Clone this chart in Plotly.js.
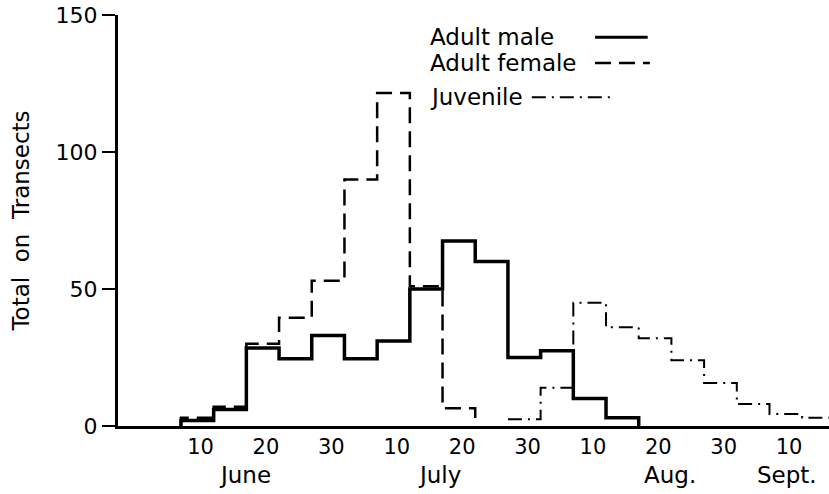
<!DOCTYPE html>
<html>
<head>
<meta charset="utf-8">
<script src="https://cdn.plot.ly/plotly-3.0.1.min.js"></script>
<style>
  html, body { margin: 0; padding: 0; background: #fff; }
  #chart { width: 829px; height: 494px; }
</style>
</head>
<body>
<div id="chart"></div>
<script>
// Day index counted from 1 June (months taken as 30 days); each bin covers 5 days.
const maleBinStarts   = [7, 12, 17, 22, 27, 32, 37, 42, 47, 52, 57, 62, 67, 72];
const maleCounts      = [2, 6, 28.5, 24.5, 33, 24.5, 31, 50, 67.5, 60, 25, 27.5, 10, 3];

const femaleBinStarts = [7, 12, 17, 22, 27, 32, 37, 42, 47];
const femaleCounts    = [3, 7, 30, 39.5, 53, 90, 121.5, 51, 6.5];

const juvBinStarts    = [57, 62, 67, 72, 77, 82, 87, 92, 97, 102];
const juvCounts       = [2.5, 14, 45, 36, 32, 24, 15.7, 8, 4.4, 3];

const binWidth = 5;

const tickDays   = [10, 20, 30, 40, 50, 60, 70, 80, 90, 100];
const tickLabels = ["10", "20", "30", "10", "20", "30", "10", "20", "30", "10"];

const monthNames = ["June", "July", "Aug.", "Sept."];
const monthDays  = [16.8, 46.6, 81.8, 99.7];

const seriesNames = ["Adult male", "Adult female", "Juvenile"];

function closedStep(starts, vals) {
  const last = starts[starts.length - 1] + binWidth;
  return { x: [starts[0]].concat(starts, [last]), y: [0].concat(vals, [0]) };
}
function openStep(starts, vals) {
  const last = starts[starts.length - 1] + binWidth;
  return { x: starts.concat([last]), y: vals.concat([vals[vals.length - 1]]) };
}

const m = closedStep(maleBinStarts, maleCounts);
const f = closedStep(femaleBinStarts, femaleCounts);
const j = openStep(juvBinStarts, juvCounts);

const FONT = "DejaVu Sans, sans-serif";
const femaleDash = "16px,8px";
const juvDash = "14px,6px,2px,6px";

const traces = [
  { x: f.x, y: f.y, mode: "lines", name: seriesNames[1], showlegend: false,
    line: { shape: "hv", color: "#000", width: 2.5, dash: femaleDash } },
  { x: j.x, y: j.y, mode: "lines", name: seriesNames[2], showlegend: false,
    line: { shape: "hv", color: "#000", width: 2, dash: juvDash } },
  { x: m.x, y: m.y, mode: "lines", name: seriesNames[0], showlegend: false,
    line: { shape: "hv", color: "#000", width: 3.5 } }
];

const annotations = monthNames.map((t, i) => ({
  x: monthDays[i], xref: "x", y: -0.119, yref: "paper",
  text: t, showarrow: false, xanchor: "center", yanchor: "middle",
  font: { family: FONT, size: 23, color: "#000" }
}));

const legendY = [0.946, 0.883, 0.800];
seriesNames.forEach((t, i) => {
  annotations.push({
    x: 0.436, xref: "paper", y: legendY[i], yref: "paper",
    text: t, showarrow: false, xanchor: "left", yanchor: "middle",
    font: { family: FONT, size: 23, color: "#000" }
  });
});

const shapes = [
  { type: "line", xref: "paper", yref: "paper", x0: 0.671, x1: 0.745, y0: legendY[0], y1: legendY[0],
    line: { color: "#000", width: 3 } },
  { type: "line", xref: "paper", yref: "paper", x0: 0.671, x1: 0.748, y0: legendY[1], y1: legendY[1],
    line: { color: "#000", width: 2.5, dash: femaleDash } },
  { type: "line", xref: "paper", yref: "paper", x0: 0.582, x1: 0.695, y0: legendY[2], y1: legendY[2],
    line: { color: "#000", width: 2, dash: juvDash } }
];

const layout = {
  width: 829, height: 494,
  margin: { l: 118, r: 0, t: 15, b: 68 },
  paper_bgcolor: "#fff", plot_bgcolor: "#fff",
  font: { family: FONT, color: "#000", size: 21 },
  showlegend: false,
  xaxis: {
    range: [-2.63, 106.1],
    tickmode: "array", tickvals: tickDays, ticktext: tickLabels,
    showgrid: false, zeroline: false,
    showline: true, linecolor: "#000", linewidth: 3,
    ticks: "", ticklabelstandoff: 0,
    tickfont: { family: FONT, size: 21, color: "#000" }
  },
  yaxis: {
    range: [0, 150],
    tickvals: [0, 50, 100, 150],
    showgrid: false, zeroline: false,
    showline: true, linecolor: "#000", linewidth: 3,
    ticks: "outside", ticklen: 13, tickwidth: 2.5, tickcolor: "#000",
    tickfont: { family: FONT, size: 22, color: "#000" },
    title: { text: "Total  on  Transects", standoff: 20,
             font: { family: FONT, size: 23, color: "#000" } }
  },
  annotations: annotations,
  shapes: shapes
};

Plotly.newPlot("chart", traces, layout, { displayModeBar: false, staticPlot: true });
</script>
</body>
</html>
